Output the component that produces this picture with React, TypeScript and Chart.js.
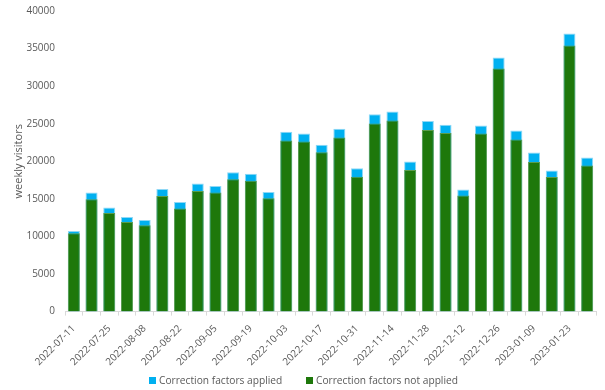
import React, { useEffect, useRef } from "react";
import { Chart, registerables } from "chart.js";

Chart.register(...registerables);

const weeks: string[] = [
  "2022-07-11", "2022-07-18", "2022-07-25", "2022-08-01", "2022-08-08", "2022-08-15",
  "2022-08-22", "2022-08-29", "2022-09-05", "2022-09-12", "2022-09-19", "2022-09-26",
  "2022-10-03", "2022-10-10", "2022-10-17", "2022-10-24", "2022-10-31", "2022-11-07",
  "2022-11-14", "2022-11-21", "2022-11-28", "2022-12-05", "2022-12-12", "2022-12-19",
  "2022-12-26", "2023-01-02", "2023-01-09", "2023-01-16", "2023-01-23", "2023-01-30",
];

const applied: number[] = [
  10740, 15840, 13840, 12600, 12200, 16330, 14600, 17040, 16730, 18540,
  18330, 15930, 23920, 23690, 22190, 24320, 19080, 26260, 26620, 19970,
  25380, 24850, 16240, 24760, 33810, 24090, 21160, 18770, 37000, 20500,
];

const notApplied: number[] = [
  10420, 14950, 13130, 11940, 11490, 15400, 13710, 16060, 15840, 17610,
  17400, 15080, 22760, 22630, 21200, 23160, 17930, 25020, 25420, 18860,
  24180, 23780, 15440, 23690, 32340, 22890, 19920, 17920, 35400, 19430,
];

const seriesNames: string[] = ["Correction factors applied", "Correction factors not applied"];
const seriesColors: string[] = ["#00b0f0", "#1e780b"];

const FONT = "'Open Sans', 'Noto Sans', sans-serif";
const TEXT = "#595959";

export default function App() {
  const ref = useRef<HTMLCanvasElement | null>(null);
  useEffect(() => {
    document.body.style.margin = "0";
    if (!ref.current) return;
    const chart = new Chart(ref.current, {
      type: "bar",
      data: {
        labels: weeks,
        datasets: [
          {
            label: seriesNames[0],
            data: applied,
            backgroundColor: seriesColors[0],
            borderColor: "#8fd8f6",
            borderWidth: 1,
            grouped: false,
            order: 1,
          },
          {
            label: seriesNames[1],
            data: notApplied,
            backgroundColor: seriesColors[1],
            borderColor: "#5a9c4c",
            borderWidth: 1,
            grouped: false,
            order: 0,
          },
        ],
      },
      options: {
        animation: false,
        responsive: false,
        maintainAspectRatio: false,
        layout: { padding: { top: 0, right: 9, left: 12, bottom: 15 } },
        datasets: { bar: { categoryPercentage: 1, barPercentage: 0.68 } },
        scales: {
          x: {
            offset: true,
            grid: {
              display: true,
              drawOnChartArea: false,
              drawTicks: true,
              tickLength: 4,
              color: "#d9d9d9",
              offset: true,
            },
            border: { display: true, color: "#d9d9d9" },
            ticks: {
              autoSkip: false,
              minRotation: 45,
              maxRotation: 45,
              color: TEXT,
              font: { family: FONT, size: 10 },
              padding: 7,
              callback: function (this: any, val: any, idx: number) {
                return idx % 2 === 0 ? this.getLabelForValue(val) : "";
              },
            },
          },
          y: {
            min: 0,
            max: 40000,
            afterFit: (scale: any) => {
              scale.width = 53;
            },
            grid: { display: false, drawTicks: false, tickLength: 0 },
            border: { display: false },
            ticks: {
              stepSize: 5000,
              color: TEXT,
              font: { family: FONT, size: 10 },
              padding: 10,
              callback: (v: any) => String(v),
            },
            title: {
              display: true,
              text: "weekly visitors",
              color: TEXT,
              font: { family: FONT, size: 11 },
              padding: { top: 0, bottom: 1 },
            },
          },
        },
        plugins: {
          legend: { display: false },
          tooltip: { enabled: false },
        },
      },
    });
    return () => chart.destroy();
  }, []);
  const legendLeft = [149, 306];
  return (
    <div style={{ position: "absolute", left: 0, top: 0, width: 605, height: 390, background: "#fff", overflow: "hidden" }}>
      <canvas
        ref={ref}
        width={605}
        height={395}
        style={{ position: "absolute", left: 0, top: -5, width: 605, height: 395, display: "block" }}
      />
      {seriesNames.map((name, i) => (
        <div
          key={name}
          style={{
            position: "absolute",
            left: legendLeft[i],
            top: 372,
            height: 16,
            display: "flex",
            alignItems: "center",
            fontFamily: FONT,
            fontSize: 10.2,
            color: TEXT,
            whiteSpace: "nowrap",
          }}
        >
          <span style={{ display: "inline-block", width: 7, height: 7, background: seriesColors[i], marginRight: 3 }} />
          <span>{name}</span>
        </div>
      ))}
    </div>
  );
}
